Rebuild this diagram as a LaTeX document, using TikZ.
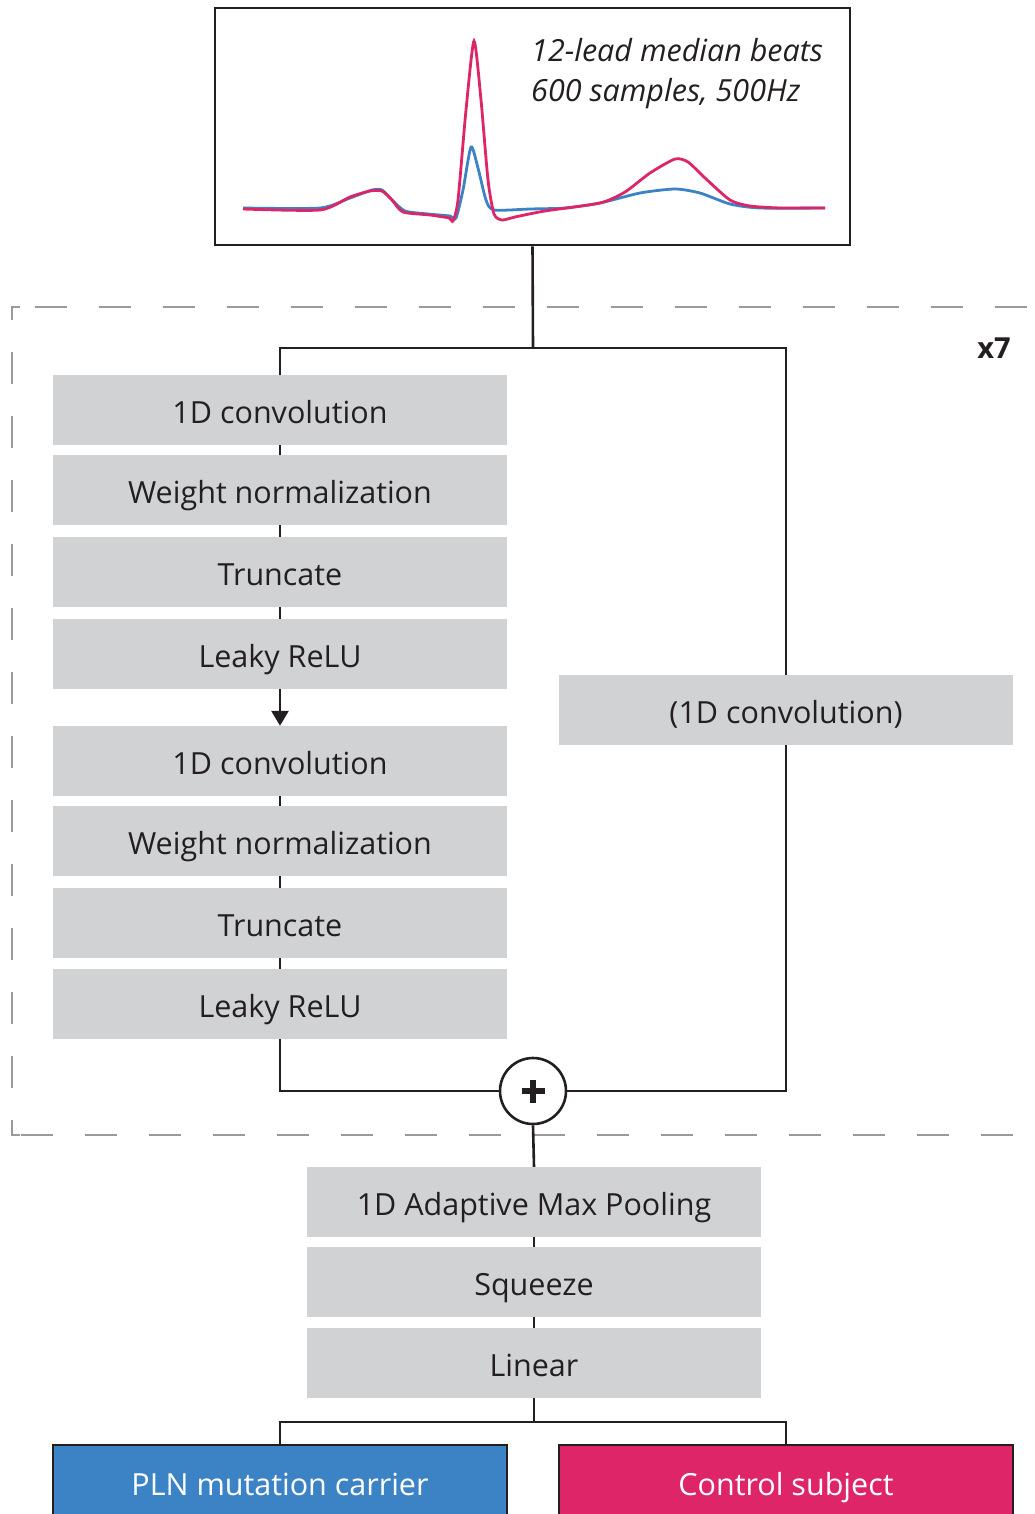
\documentclass[tikz,border=0pt]{standalone}
\usepackage{fontspec}
\setmainfont{Open Sans}
\usetikzlibrary{arrows.meta}

\definecolor{layergray}{HTML}{D1D2D4}
\definecolor{plnblue}{HTML}{3B83C5}
\definecolor{ctrlred}{HTML}{DD2568}
\definecolor{repgray}{HTML}{9A9A9A}
\definecolor{inkgray}{HTML}{231F20}

\tikzset{
  layer/.style={fill=layergray, minimum width=454pt, minimum height=70pt, inner sep=0pt,
    text=inkgray, text height=26pt, text depth=0pt, font=\fontsize{30.5}{34}\selectfont},
  outbox/.style={draw=inkgray, line width=2.6pt, minimum width=454pt, minimum height=78pt,
    inner sep=0pt, text=white, text height=24pt, text depth=2pt, font=\fontsize{30.5}{34}\selectfont},
  wire/.style={line width=2.6pt, draw=inkgray},
  repline/.style={repgray, line width=2.6pt},
}

\begin{document}
\begin{tikzpicture}[x=1pt,y=-1pt]
    \useasboundingbox (0,0) rectangle (1035,1514);
    % repeated block (x7)
    \draw[repline, dash pattern=on 32pt off 32pt, dash phase=41pt] (12,307) -- (1100,307);
    \draw[repline, dash pattern=on 32pt off 32pt, dash phase=19pt] (12,307) -- (12,1135);
    \draw[repline, dash pattern=on 32pt off 32pt, dash phase=55pt] (12,1135) -- (1100,1135);
    \draw[repline] (20,307) -- (12,307) -- (12,320);
    \draw[repline] (12,1121) -- (12,1135) -- (20,1135);
    \node[text=inkgray, font=\fontsize{29}{32}\selectfont\bfseries] (rep) at (994,348) {x7};

    % input beats
    \node[draw=inkgray, line width=2.6pt, minimum width=635pt, minimum height=237pt, inner sep=0pt] (ecg) at (532.5,126.5) {};
    \node[anchor=north west, align=left, text=inkgray, inner sep=0pt,
      font=\fontsize{30.5}{40}\selectfont\itshape] (desc) at (531,38) {12-lead median beats\\600 samples, 500Hz};
    \draw[plnblue, line width=2.8pt] plot[smooth, tension=0.4] coordinates {
      (243,208) (320,208) (350,198) (372,190) (382,190) (392,200) (405,211) (428,214) (450,216) (456,218)
      (463,190) (471,147) (478,168) (486,200) (494,210) (530,209) (565,208) (600,203) (640,193) (675,189)
      (700,193) (730,204) (760,208) (825,208)};
    \draw[ctrlred, line width=2.8pt] plot[smooth, tension=0.4] coordinates {
      (243,209) (320,210) (350,197) (370,191) (382,191) (392,200) (403,212) (430,215) (449,218) (453,221)
      (458,200) (466,110) (474,41) (481,100) (488,180) (494,214) (502,220) (515,217) (545,211) (600,203)
      (625,192) (650,173) (675,159) (688,162) (705,178) (730,200) (750,206) (780,208) (825,208)};

    % residual branch
    \foreach \y/\t [count=\i from 1] in {410/1D convolution, 490/Weight normalization, 572/Truncate, 654/Leaky ReLU,
                                        761/1D convolution, 841/Weight normalization, 923/Truncate, 1004/Leaky ReLU}
      {\node[layer] (l\i) at (280,\y) {\t};}
    \foreach \i/\j in {1/2,2/3,3/4,5/6,6/7,7/8} {\draw[wire] (l\i.south) -- (l\j.north);}
    \draw[wire, -{Triangle[length=15pt, width=17pt]}] (l4.south) -- (l5.north);

    % skip connection
    \node[layer] (skip) at (786,710) {(1D convolution)};
    \node[circle, draw=inkgray, line width=2.6pt, minimum size=66pt, inner sep=0pt, fill=white] (sum) at (533,1091) {};
    \draw[inkgray, line width=6pt] ([xshift=-11.5pt]sum.center) -- ([xshift=11.5pt]sum.center);
    \draw[inkgray, line width=6pt] ([yshift=-11.5pt]sum.center) -- ([yshift=11.5pt]sum.center);

    \coordinate (split) at (533,348);
    \draw[wire] (ecg.south) -- (split);
    \draw[wire] (split) -| (l1.north);
    \draw[wire] (split) -| (skip.north);
    \draw[wire] (skip.south) |- (sum.east);
    \draw[wire] (l8.south) |- (sum.west);

    % head
    \foreach \y/\t [count=\i from 1] in {1202/1D Adaptive Max Pooling, 1282/Squeeze, 1363/Linear}
      {\node[layer] (h\i) at (534,\y) {\t};}
    \draw[wire] (sum.south) -- (h1.north);
    \draw[wire] (h1.south) -- (h2.north);
    \draw[wire] (h2.south) -- (h3.north);

    % outputs
    \node[outbox, fill=plnblue] (pln) at (280,1484) {PLN mutation carrier};
    \node[outbox, fill=ctrlred] (ctrl) at (786,1484) {Control subject};
    \coordinate (fork) at (534,1422);
    \draw[wire] (h3.south) -- (fork);
    \draw[wire] (fork) -| (pln.north);
    \draw[wire] (fork) -| (ctrl.north);
  \end{tikzpicture}
\end{document}
